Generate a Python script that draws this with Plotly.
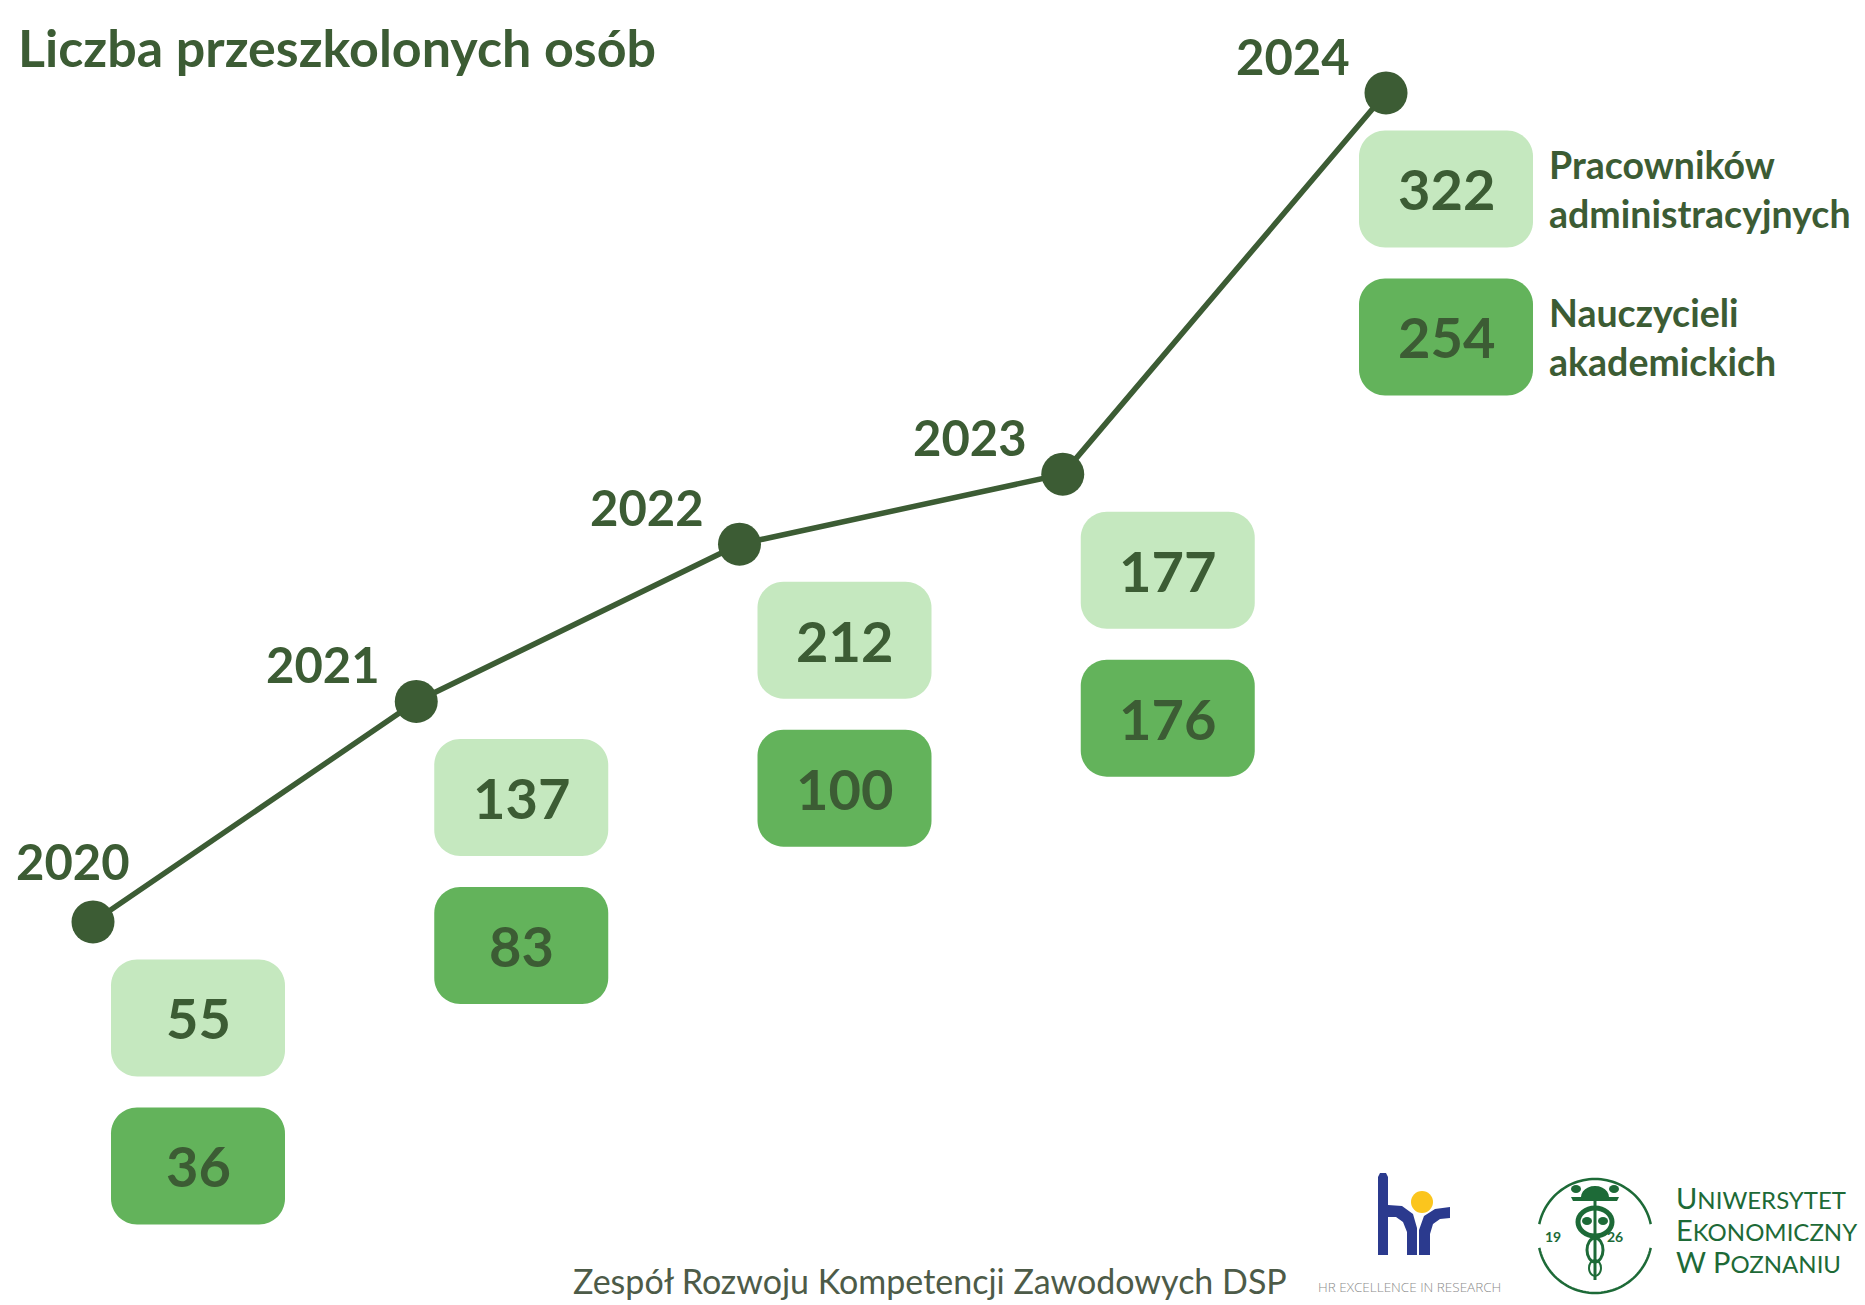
import math

import plotly.graph_objects as go

# --- data -------------------------------------------------------------
years = [2020, 2021, 2022, 2023, 2024]
admin_staff = [55, 137, 212, 177, 322]
academic_teachers = [36, 83, 100, 176, 254]
series_labels = ["Pracowników<br>administracyjnych", "Nauczycieli<br>akademickich"]

title_text = "Liczba przeszkolonych osób"
footer_text = "Zespół Rozwoju Kompetencji Zawodowych DSP"

totals = [a + t for a, t in zip(admin_staff, academic_teachers)]

# --- canvas / style ---------------------------------------------------
W, H = 1865, 1305
X_RANGE = [2019.7123, 2025.4818]
Y_RANGE = [-133.1, 630.4]
PXX = W / (X_RANGE[1] - X_RANGE[0])  # pixels per year
PXY = H / (Y_RANGE[1] - Y_RANGE[0])  # pixels per person

FONT = "Lato, 'Open Sans', sans-serif"
DARK = "#3c5c34"
LIGHT_BOX = "#c5e8bf"
DARK_BOX = "#63b35b"
FOOTER = "#4d5b48"
UEP_GREEN = "#1d6a37"
HR_BLUE = "#2b3a8e"
HR_YELLOW = "#fbc51d"

BOX_W, BOX_H, BOX_R = 174, 117, 26
BOX_DX = 105        # box offset right of the point (px)
BOX_DX_LAST = 60    # last box sits closer, leaving room for the labels
BOX_DY = 96         # light box centre below the point (px)
BOX_GAP = 148       # dark box centre below light box centre (px)
K = 0.5523          # bezier factor for quarter circles


def rounded_box(cx, cy, w, h, r):
    hw, hh = w / 2 / PXX, h / 2 / PXY
    rx, ry = r / PXX, r / PXY
    kx, ky = rx * K, ry * K
    x0, x1, y0, y1 = cx - hw, cx + hw, cy - hh, cy + hh
    return (
        f"M {x0 + rx},{y1} L {x1 - rx},{y1} "
        f"C {x1 - rx + kx},{y1} {x1},{y1 - ry + ky} {x1},{y1 - ry} "
        f"L {x1},{y0 + ry} "
        f"C {x1},{y0 + ry - ky} {x1 - rx + kx},{y0} {x1 - rx},{y0} "
        f"L {x0 + rx},{y0} "
        f"C {x0 + rx - kx},{y0} {x0},{y0 + ry - ky} {x0},{y0 + ry} "
        f"L {x0},{y1 - ry} "
        f"C {x0},{y1 - ry + ky} {x0 + rx - kx},{y1} {x0 + rx},{y1} Z"
    )


def px(x, y):
    return x / W, 1 - y / H


def px_path(points, close=True):
    parts = []
    for i, (x, y) in enumerate(points):
        xp, yp = px(x, y)
        parts.append(("M" if i == 0 else "L") + f" {xp},{yp}")
    return " ".join(parts) + (" Z" if close else "")


fig = go.Figure()

fig.add_trace(
    go.Scatter(
        x=years,
        y=totals,
        mode="lines+markers",
        line={"color": DARK, "width": 5.5},
        marker={"color": DARK, "size": 43},
        hoverinfo="skip",
    )
)

shapes = []
annotations = []

for i, (year, total, adm, tea) in enumerate(zip(years, totals, admin_staff, academic_teachers)):
    last = i == len(years) - 1
    cx = year + (BOX_DX_LAST if last else BOX_DX) / PXX
    cy_light = total - BOX_DY / PXY
    cy_dark = cy_light - BOX_GAP / PXY

    for cy, value, fill in ((cy_light, adm, LIGHT_BOX), (cy_dark, tea, DARK_BOX)):
        shapes.append(
            dict(type="path", path=rounded_box(cx, cy, BOX_W, BOX_H, BOX_R),
                 fillcolor=fill, line={"width": 0}, layer="below")
        )
        annotations.append(
            dict(x=cx, y=cy, text=str(value), showarrow=False,
                 font={"family": FONT, "size": 56, "color": DARK, "weight": "bold"})
        )

    # year label: up-left of the point, first one kept inside the canvas
    if i == 0:
        label_pos = dict(xanchor="center", xshift=-20, yshift=61)
    else:
        label_pos = dict(xanchor="right", xshift=-34, yshift=37)
    annotations.append(
        dict(x=year, y=total, text=str(year), showarrow=False, yanchor="middle",
             font={"family": FONT, "size": 49, "color": DARK, "weight": "bold"}, **label_pos)
    )

    if last:
        label_x = cx + (BOX_W / 2 + 14) / PXX
        for cy, label in ((cy_light, series_labels[0]), (cy_dark, series_labels[1])):
            annotations.append(
                dict(x=label_x, y=cy, text=label, showarrow=False, xanchor="left",
                     align="left", yanchor="middle",
                     font={"family": FONT, "size": 37.5, "color": DARK, "weight": "bold"})
            )

# title and footer
annotations.append(
    dict(xref="paper", yref="paper", x=16 / W, y=1 - 47 / H, xanchor="left", yanchor="middle",
         text=title_text, showarrow=False,
         font={"family": FONT, "size": 52, "color": DARK, "weight": "bold"})
)
annotations.append(
    dict(xref="paper", yref="paper", x=571 / W, y=1 - 1280 / H, xanchor="left", yanchor="middle",
         text=footer_text, showarrow=False,
         font={"family": FONT, "size": 34, "color": FOOTER})
)

# --- HR excellence logo ----------------------------------------------
hr_paths = [
    [(1378, 1255), (1378, 1177), (1380, 1173), (1386, 1173), (1388, 1177), (1388, 1255)],
    [(1388, 1205), (1402, 1206), (1413, 1214), (1417, 1228), (1417, 1255), (1407, 1255),
     (1407, 1232), (1403, 1222), (1396, 1217), (1388, 1217)],
    [(1419, 1255), (1419, 1230), (1424, 1216), (1435, 1209), (1450, 1207), (1450, 1218),
     (1440, 1219), (1433, 1224), (1430, 1234), (1430, 1255)],
]
for pts in hr_paths:
    shapes.append(dict(type="path", xref="paper", yref="paper", path=px_path(pts),
                       fillcolor=HR_BLUE, line={"width": 0}))
x0, y0 = px(1411, 1191)
x1, y1 = px(1433, 1213)
shapes.append(dict(type="circle", xref="paper", yref="paper", x0=x0, y0=y1, x1=x1, y1=y0,
                   fillcolor=HR_YELLOW, line={"width": 0}))
annotations.append(
    dict(xref="paper", yref="paper", x=1409 / W, y=1 - 1287 / H, xanchor="center", yanchor="middle",
         text="HR EXCELLENCE IN RESEARCH", showarrow=False,
         font={"family": "'Open Sans', sans-serif", "size": 13.5, "color": "#8c8c8c", "weight": 300})
)

# --- university logo -------------------------------------------------
ccx, ccy, cr = 1595, 1236, 57
for start, end in ((12, 168), (192, 348)):
    pts = [(ccx + cr * math.cos(math.radians(a)), ccy - cr * math.sin(math.radians(a)))
           for a in range(start, end + 1, 3)]
    shapes.append(dict(type="path", xref="paper", yref="paper", path=px_path(pts, close=False),
                       line={"color": UEP_GREEN, "width": 2.5}))

# staff
sx0, sy0 = px(ccx, 1198)
sx1, sy1 = px(ccx, 1280)
shapes.append(dict(type="line", xref="paper", yref="paper", x0=sx0, y0=sy0, x1=sx1, y1=sy1,
                   line={"color": UEP_GREEN, "width": 3}))
# hat with brim
hat = [(ccx - 14, 1197)] + [
    (ccx + 14 * math.cos(math.radians(a)), 1197 - 11 * math.sin(math.radians(a)))
    for a in range(180, -1, -15)
] + [(ccx + 24, 1197), (ccx + 22, 1201), (ccx - 22, 1201), (ccx - 24, 1197)]
shapes.append(dict(type="path", xref="paper", yref="paper", path=px_path(hat),
                   fillcolor=UEP_GREEN, line={"width": 0}))
# leaves
for lx, ly in ((ccx - 19, 1189), (ccx + 19, 1189), (ccx - 8, 1221), (ccx + 8, 1221)):
    a0, b0 = px(lx - 5, ly - 4)
    a1, b1 = px(lx + 5, ly + 4)
    shapes.append(dict(type="circle", xref="paper", yref="paper", x0=a0, y0=b1, x1=a1, y1=b0,
                       fillcolor=UEP_GREEN, line={"width": 0}))
# snakes
for ex, ey, rx, ry, lw in ((ccx, 1222, 17, 14, 5), (ccx, 1250, 8, 12, 3), (ccx, 1268, 6, 8, 2)):
    a0, b0 = px(ex - rx, ey - ry)
    a1, b1 = px(ex + rx, ey + ry)
    shapes.append(dict(type="circle", xref="paper", yref="paper", x0=a0, y0=b1, x1=a1, y1=b0,
                       line={"color": UEP_GREEN, "width": lw}))
for txt, tx in (("19", 1563), ("26", 1625)):
    annotations.append(
        dict(xref="paper", yref="paper", x=tx / W, y=1 - 1247 / H, text=txt, showarrow=False,
             font={"family": FONT, "size": 14, "color": UEP_GREEN, "weight": "bold"})
    )

# small-caps wordmark, one line per annotation so the lines do not collide
big = "<span style='font-size:29px'>{}</span>"
uep_lines = [
    big.format("U") + "NIWERSYTET",
    big.format("E") + "KONOMICZNY",
    big.format("W P") + "OZNANIU",
]
for line, ymid in zip(uep_lines, (1197, 1229, 1261)):
    annotations.append(
        dict(xref="paper", yref="paper", x=1674 / W, y=1 - ymid / H, xanchor="left",
             yanchor="middle", align="left", text=line, showarrow=False,
             font={"family": FONT, "size": 24, "color": UEP_GREEN})
    )

fig.update_layout(
    width=W,
    height=H,
    margin={"t": 0, "r": 0, "b": 0, "l": 0},
    paper_bgcolor="white",
    plot_bgcolor="white",
    showlegend=False,
    xaxis={"range": X_RANGE, "visible": False, "fixedrange": True},
    yaxis={"range": Y_RANGE, "visible": False, "fixedrange": True},
    shapes=shapes,
    annotations=annotations,
)

fig.write_html(
    "out.html",
    config={"displayModeBar": False},
    post_script="document.body.style.margin='0';document.body.style.overflow='hidden';",
)
